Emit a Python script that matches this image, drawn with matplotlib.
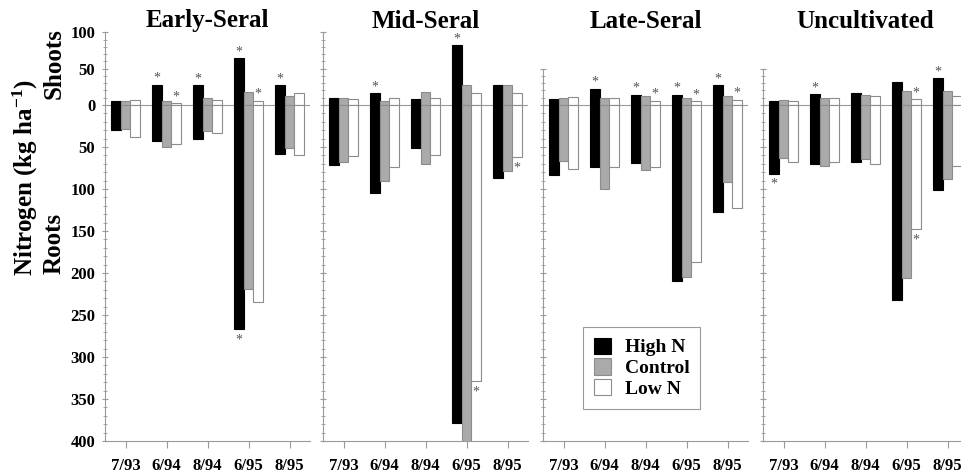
import numpy as np
import matplotlib
matplotlib.use('Agg')
import matplotlib.pyplot as plt
from matplotlib.patches import Patch
from matplotlib.ticker import MultipleLocator, FuncFormatter

plt.rcParams['font.family'] = ['Liberation Serif', 'DejaVu Serif']
plt.rcParams['font.weight'] = 'bold'
plt.rcParams['mathtext.fontset'] = 'custom'
plt.rcParams['mathtext.rm'] = 'Liberation Serif:bold'
plt.rcParams['mathtext.it'] = 'Liberation Serif:bold'
plt.rcParams['mathtext.bf'] = 'Liberation Serif:bold'

# ---------------- data ----------------
dates = ['7/93', '6/94', '8/94', '6/95', '8/95']
sites = ['Early-Seral', 'Mid-Seral', 'Late-Seral', 'Uncultivated']
treatments = ['High N', 'Control', 'Low N']

# shoot N (kg/ha), positive up
early_shoots = {'High N': [5, 28, 27, 64, 27], 'Control': [6, 6, 10, 18, 12], 'Low N': [7, 2.5, 7, 6, 17]}
mid_shoots = {'High N': [10, 16, 8, 82, 28], 'Control': [10, 6, 18, 28, 27], 'Low N': [8, 9, 9, 16, 16]}
late_shoots = {'High N': [8, 22, 14, 14, 27], 'Control': [10, 10, 12, 10, 12], 'Low N': [11, 9, 6, 5, 7]}
unc_shoots = {'High N': [5, 15, 16, 32, 37], 'Control': [6.5, 10, 14, 19.5, 19.5], 'Low N': [6, 10, 12, 8, 12]}

# root N (kg/ha), drawn downward
early_roots = {'High N': [30, 43, 40, 267, 58], 'Control': [28, 50, 31, 219, 51], 'Low N': [38, 47, 33, 235, 59]}
mid_roots = {'High N': [72, 105, 51, 378, 87], 'Control': [68, 91, 70, 402, 79], 'Low N': [61, 74, 59, 329, 62]}
late_roots = {'High N': [83, 74, 69, 209, 127], 'Control': [67, 100, 77, 205, 92], 'Low N': [76, 74, 74, 187, 123]}
unc_roots = {'High N': [82, 70, 68, 232, 101], 'Control': [63, 73, 64, 206, 88], 'Low N': [68, 68, 70, 148, 73]}

# significance marks: (date, treatment, 'shoot' or 'root')
early_sig = [('6/94', 'High N', 'shoot'), ('6/94', 'Low N', 'shoot'), ('8/94', 'High N', 'shoot'),
             ('6/95', 'High N', 'shoot'), ('6/95', 'High N', 'root'), ('6/95', 'Low N', 'shoot'),
             ('8/95', 'High N', 'shoot')]
mid_sig = [('6/94', 'High N', 'shoot'), ('6/95', 'High N', 'shoot'), ('6/95', 'Low N', 'root'),
           ('8/95', 'Low N', 'root')]
late_sig = [('6/94', 'High N', 'shoot'), ('8/94', 'High N', 'shoot'), ('8/94', 'Low N', 'shoot'),
            ('6/95', 'High N', 'shoot'), ('6/95', 'Low N', 'shoot'), ('8/95', 'High N', 'shoot'),
            ('8/95', 'Low N', 'shoot')]
unc_sig = [('7/93', 'High N', 'root'), ('6/94', 'High N', 'shoot'), ('6/95', 'Low N', 'shoot'),
           ('6/95', 'Low N', 'root'), ('8/95', 'High N', 'shoot')]

y_tops = [100, 100, 50, 50]

# ---------------- styling ----------------
face = {'High N': '#000000', 'Control': '#aaaaaa', 'Low N': '#ffffff'}
edge = {'High N': '#000000', 'Control': '#8c8c8c', 'Low N': '#8c8c8c'}
axis_grey = '#9a9a9a'

W, H = 961, 475
fig = plt.figure(figsize=(W / 100, H / 100), dpi=100)

K = 0.866  # shoots drawn on a compressed scale relative to roots


def fwd(y):
    y = np.asarray(y, dtype=float)
    return np.where(y > 0, y * K, y)


def inv(y):
    y = np.asarray(y, dtype=float)
    return np.where(y > 0, y / K, y)


ppu = 0.84
lefts = [105, 323, 543, 763]
panel_w = 205
bottom_px = 34

all_shoots = [early_shoots, mid_shoots, late_shoots, unc_shoots]
all_roots = [early_roots, mid_roots, late_roots, unc_roots]
all_sig = [early_sig, mid_sig, late_sig, unc_sig]

bw = 0.23
x = np.arange(len(dates))

for i, site in enumerate(sites):
    top = y_tops[i]
    h_px = (400 + top * K) * ppu
    ax = fig.add_axes([lefts[i] / W, bottom_px / H, panel_w / W, h_px / H])
    ax.set_yscale('function', functions=(fwd, inv))
    ax.set_ylim(-400, top)
    ax.set_xlim(-0.5, 4.5)
    shoots = all_shoots[i]
    roots = all_roots[i]
    for j, t in enumerate(treatments):
        xs = x + (j - 1) * bw
        ax.bar(xs, shoots[t], bw, color=face[t], edgecolor=edge[t], linewidth=0.8, zorder=2)
        ax.bar(xs, [-v for v in roots[t]], bw, color=face[t], edgecolor=edge[t], linewidth=0.8, zorder=2)
    ax.axhline(0, color=axis_grey, linewidth=0.8, zorder=1)

    for (d, t, part) in all_sig[i]:
        di = dates.index(d)
        ti = treatments.index(t)
        xp = di + (ti - 1) * bw
        if part == 'shoot':
            ax.annotate('*', xy=(xp, shoots[t][di]), xytext=(0, 0), textcoords='offset points',
                        ha='center', va='bottom', fontsize=10, color='#555555', fontweight='normal')
        else:
            ax.annotate('*', xy=(xp, -roots[t][di]), xytext=(0, -3), textcoords='offset points',
                        ha='center', va='top', fontsize=10, color='#555555', fontweight='normal')

    for s in ['top', 'right']:
        ax.spines[s].set_visible(False)
    for s in ['left', 'bottom']:
        ax.spines[s].set_color(axis_grey)
        ax.spines[s].set_linewidth(0.8)

    ax.set_xticks(x)
    ax.set_xticklabels(dates, fontsize=12, fontweight='bold')
    ax.tick_params(axis='x', direction='out', length=5, color=axis_grey, pad=7)

    ax.yaxis.set_major_locator(MultipleLocator(50))
    ax.yaxis.set_minor_locator(MultipleLocator(10))
    ax.tick_params(axis='y', which='major', direction='inout', length=4, color=axis_grey, pad=5)
    ax.tick_params(axis='y', which='minor', direction='inout', length=3, color=axis_grey)
    if i == 0:
        ax.yaxis.set_major_formatter(FuncFormatter(lambda v, p: '%d' % abs(round(v))))
        ax.tick_params(axis='y', labelsize=12)
    else:
        ax.tick_params(axis='y', labelleft=False)

    fig.text((lefts[i] + panel_w / 2) / W, 1 - 21 / H, site, ha='center', va='center',
             fontsize=18, fontweight='bold')

fig.text(25 / W, 1 - 178 / H, 'Nitrogen (kg ha$^{-1}$)', rotation=90, ha='center', va='center',
         fontsize=18, fontweight='bold')
fig.text(54 / W, 1 - 64 / H, 'Shoots', rotation=90, ha='center', va='center',
         fontsize=18, fontweight='bold')
fig.text(54 / W, 1 - 243 / H, 'Roots', rotation=90, ha='center', va='center',
         fontsize=18, fontweight='bold')

handles = [Patch(facecolor=face[t], edgecolor=edge[t], linewidth=0.8) for t in treatments]
leg = fig.legend(handles, treatments, loc='upper left', bbox_to_anchor=(583 / W, 1 - 327 / H),
                 borderaxespad=0, frameon=True, fancybox=False, edgecolor=axis_grey, framealpha=1,
                 handlelength=0.9, handleheight=0.9, labelspacing=0.1, borderpad=0.55,
                 handletextpad=0.7, prop={'weight': 'bold', 'size': 14})
leg.get_frame().set_linewidth(0.8)

fig.savefig('out.png', dpi=100)
